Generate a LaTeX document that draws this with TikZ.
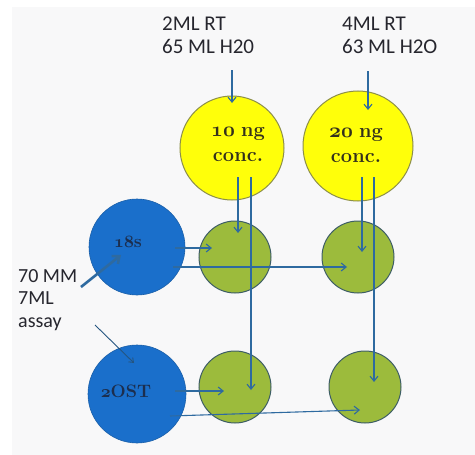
\documentclass[tikz,border=0pt]{standalone}
\usepackage{fontspec}
\usetikzlibrary{arrows.meta}
\newfontfamily\labelfont{Carlito}
% old-style figures taken from the math italic font
\newcommand{\osf}[1]{\ensuremath{\mathnormal{#1}}}
\definecolor{paper}{HTML}{F8F8F9}
\definecolor{sunny}{HTML}{FFFF0A}
\definecolor{sunnyedge}{HTML}{8C8E4A}
\definecolor{olive}{HTML}{9CBB3C}
\definecolor{oliveedge}{HTML}{3E5E66}
\definecolor{royal}{HTML}{1A6FCB}
\definecolor{royaledge}{HTML}{1A5FA8}
\definecolor{wire}{HTML}{2E6AA0}
\definecolor{ink}{HTML}{26262E}
\definecolor{navy}{HTML}{1C2E4E}
\definecolor{bark}{HTML}{33301C}
\tikzset{
  x=1pt, y=-1pt,
  yellowdot/.style={circle, fill=sunny, draw=sunnyedge, line width=1pt,
    minimum size=#1, inner sep=0pt},
  greendot/.style={circle, fill=olive, draw=oliveedge, line width=1pt,
    minimum size=72pt, inner sep=0pt},
  bluedot/.style={circle, fill=royal, draw=royaledge, line width=0.6pt,
    minimum size=#1, inner sep=0pt},
  note/.style={font=\labelfont\fontsize{21}{23}\selectfont, text=ink,
    align=left, inner sep=0pt, anchor=north west},
  serifnote/.style={font=\fontsize{20}{25}\selectfont\boldmath, text=bark, align=center},
  primer/.style={font=\fontsize{18}{20}\selectfont\boldmath, text=navy},
  feed/.style={draw=wire, line width=1.1pt, -{Straight Barb[length=5pt,width=8pt]}},
}
\begin{document}
\begin{tikzpicture}
\useasboundingbox (0,0) rectangle (475,455);
\fill[white] (0,0) rectangle (475,455);
\fill[paper] (12,7) rectangle (475,455);

% top labels
\node[note] (lbla) at (162,17) {2ML RT\\65 ML H20};
\node[note] (lblb) at (342,17) {4ML RT\\63 ML H2O};
\node[note, font=\labelfont\fontsize{20}{22.5}\selectfont] (lblc) at (18,269) {70 MM\\7ML\\assay};

% yellow dilution circles
\node[yellowdot=104pt] (ya) at (232,148) {};
\node[yellowdot=110pt] (yb) at (358,146) {};
\node[serifnote] (ta) at (238,144) {\osf{10} \textbf{ng}\\\textbf{conc.}};
\node[serifnote] (tb) at (356,145) {\osf{20} \textbf{ng}\\\textbf{conc.}};

% green wells
\node[greendot] (ga) at (235,257) {};
\node[greendot] (gb) at (358,257) {};
\node[greendot] (gc) at (235,387) {};
\node[greendot] (gd) at (365,387) {};

% blue primer circles
\node[bluedot=96pt] (ba) at (137,247) {};
\node[bluedot=98pt] (bb) at (137,394) {};
\node[primer] (pa) at (128,242) {\osf{18}\textbf{s}};
\node[primer] (pb) at (126,391) {\osf{2}\textbf{OST}};

% arrow anchor points
\coordinate (ta0) at (232,70);  \coordinate (ta1) at (232,103);
\coordinate (tb0) at (368,71);  \coordinate (tb1) at (368,110);
\coordinate (ya1) at (238,177); \coordinate (ya2) at (251,177);
\coordinate (yb1) at (362,177); \coordinate (yb2) at (374,177);
\coordinate (ga1) at (238,233); \coordinate (gc1) at (251,390);
\coordinate (gb1) at (362,252); \coordinate (gd1) at (374,382);
\coordinate (ba1) at (175,248); \coordinate (ga2) at (212,248);
\coordinate (ba2) at (173,267); \coordinate (gb2) at (347,267);
\coordinate (bb1) at (175,391); \coordinate (gc2) at (224,391);
\coordinate (bb2) at (170,416); \coordinate (gd2) at (360,410);
\coordinate (m0) at (81,287);   \coordinate (m1) at (121,255);
\coordinate (s0) at (95,325);   \coordinate (s1) at (134,363);

% connectors
\draw[feed] (ta0) -- (ta1);
\draw[feed] (tb0) -- (tb1);
\draw[feed] (ya1) -- (ga1);
\draw[feed] (ya2) -- (gc1);
\draw[feed] (yb1) -- (gb1);
\draw[feed] (yb2) -- (gd1);
\draw[feed] (ba1) -- (ga2);
\draw[feed] (ba2) -- (gb2);
\draw[feed] (bb1) -- (gc2);
\draw[feed] (bb2) -- (gd2);
\draw[draw=wire, line width=2.6pt, -{Straight Barb[length=6pt,width=10pt]}] (m0) -- (m1);
\draw[draw=wire!80!black, line width=0.9pt, -{Straight Barb[length=4pt,width=6pt]}] (s0) -- (s1);
\end{tikzpicture}
\end{document}
